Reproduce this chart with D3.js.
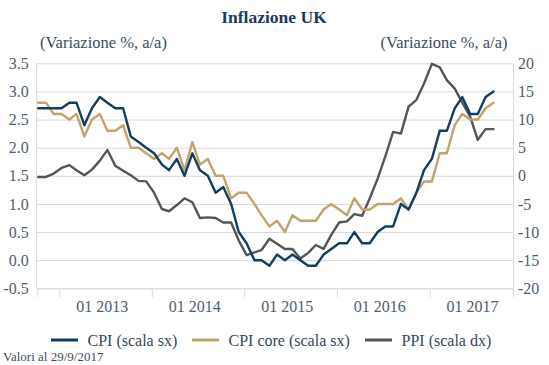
<!DOCTYPE html>
<html><head><meta charset="utf-8">
<script src="https://cdn.jsdelivr.net/npm/d3@7"></script>
<style>body{margin:0;background:#fff} svg{display:block}</style>
</head><body>
<svg id="c" width="549" height="365"></svg>
<script>
// ---- data (monthly, Oct 2012 - Sep 2017) ----
const startDate = new Date(2012, 9, 10);
const cpi = [2.7,2.7,2.7,
  2.7,2.8,2.8,2.4,2.7,2.9,2.8,2.7,2.7,2.2,2.1,2.0,
  1.9,1.7,1.6,1.8,1.5,1.9,1.6,1.5,1.2,1.3,1.0,0.5,
  0.3,0.0,0.0,-0.1,0.1,0.0,0.1,0.0,-0.1,-0.1,0.1,0.2,
  0.3,0.3,0.5,0.3,0.3,0.5,0.6,0.6,1.0,0.9,1.2,1.6,
  1.8,2.3,2.3,2.7,2.9,2.6,2.6,2.9,3.0];
const core = [2.8,2.8,2.6,
  2.6,2.5,2.6,2.2,2.5,2.6,2.3,2.3,2.4,2.0,2.0,1.9,
  1.8,1.9,1.8,2.0,1.6,2.1,1.7,1.8,1.5,1.5,1.1,1.2,
  1.2,1.0,0.8,0.6,0.7,0.5,0.8,0.7,0.7,0.7,0.9,1.0,
  0.9,0.8,1.1,0.9,0.9,1.0,1.0,1.0,1.1,0.9,1.2,1.4,
  1.4,1.9,1.9,2.4,2.6,2.5,2.5,2.7,2.8];
const ppi = [-0.2,-0.2,0.4,
  1.4,1.9,1.0,0.1,1.1,2.7,4.6,1.8,0.9,0.1,-0.9,-1.0,
  -3.0,-5.9,-6.3,-5.2,-4.0,-4.7,-7.5,-7.4,-7.5,-8.3,-8.3,-11.5,
  -14.1,-13.6,-13.2,-11.2,-12.1,-13.0,-13.0,-14.7,-13.7,-12.3,-13.0,-10.5,
  -8.3,-8.1,-6.8,-7.1,-4.0,-0.5,3.4,7.8,7.5,12.3,13.5,16.4,
  19.9,19.3,17.0,15.5,13.0,10.5,6.4,8.3,8.3];
const leftTicks = [-0.5,0,0.5,1,1.5,2,2.5,3,3.5];
const rightTicks = [-20,-15,-10,-5,0,5,10,15,20];
const tickYears = [2013,2014,2015,2016,2017];
const seriesNames = ["CPI (scala sx)","CPI core (scala sx)","PPI (scala dx)"];
const title = "Inflazione UK";
const subtitle = "(Variazione %, a/a)";
const note = "Valori al 29/9/2017";

// ---- layout ----
const FONT = "'Liberation Serif','Times New Roman',serif";
const colors = ["#123f5f","#c1a46d","#555555"];
const L = 36.7, R = 513, T = 63.3, B = 288.3;
const svg = d3.select("#c").style("font-family", FONT);

const months = cpi.map((_, i) => d3.timeMonth.offset(startDate, i));
const x = d3.scaleTime().domain([new Date(2012,9,4), new Date(2017,10,26)]).range([L, R]);
const yL = d3.scaleLinear().domain([-0.5,3.5]).range([B, T]);
const yR = d3.scaleLinear().domain([-20,20]).range([B, T]);

// gridlines + left axis labels
const gl = svg.append("g").attr("transform",`translate(${L},0)`)
  .call(d3.axisLeft(yL).tickValues(leftTicks).tickSize(-(R-L)).tickPadding(8)
        .tickFormat(d => d.toFixed(1)));
gl.select(".domain").remove();
gl.selectAll(".tick line").attr("stroke","#d9d9d9").attr("stroke-width",1);
gl.selectAll(".tick text").attr("fill","#4d5e70").style("font-size","16px").style("font-family",FONT);

// right axis
const gr = svg.append("g").attr("transform",`translate(${R},0)`)
  .call(d3.axisRight(yR).tickValues(rightTicks).tickSize(0).tickPadding(5)
        .tickFormat(d => String(d)));
gr.select(".domain").attr("stroke","#d9d9d9");
gr.selectAll(".tick text").attr("fill","#4d5e70").style("font-size","16px").style("font-family",FONT);

// left axis line
svg.append("line").attr("x1",L).attr("x2",L).attr("y1",T).attr("y2",B).attr("stroke","#d9d9d9");

// bottom axis
const gb = svg.append("g").attr("transform",`translate(0,${B})`)
  .call(d3.axisBottom(x).tickValues(tickYears.map(y => new Date(y,0,1))).tickSize(9)
        .tickFormat(d3.timeFormat("%m %Y")));
gb.select(".domain").attr("stroke","#d9d9d9");
gb.selectAll(".tick line").attr("stroke","#d9d9d9");
gb.selectAll(".tick text").attr("fill","#4d5e70").style("font-size","16px").style("font-family",FONT)
  .attr("x",42.5).attr("y",24).attr("dy",0);

// series
const series = [
  {vals: cpi, y: yL},
  {vals: core, y: yL},
  {vals: ppi, y: yR}
];
// draw PPI first (behind), then core, then CPI
[2,1,0].forEach(k => {
  const s = series[k];
  const line = d3.line().x((d,i) => x(months[i])).y(d => s.y(d));
  svg.append("path").datum(s.vals).attr("d", line)
    .attr("fill","none").attr("stroke",colors[k]).attr("stroke-width",2.4)
    .attr("stroke-linejoin","round").attr("stroke-linecap","round");
});

// title & subtitles
svg.append("text").attr("x",274).attr("y",23).attr("text-anchor","middle")
  .attr("fill","#1b3a5c").style("font-size","17.5px").style("font-weight","bold").text(title);
svg.append("text").attr("x",40).attr("y",47.5).attr("fill","#3d4d5d").style("font-size","16.5px").text(subtitle);
svg.append("text").attr("x",507.5).attr("y",47.5).attr("text-anchor","end").attr("fill","#3d4d5d").style("font-size","16.5px").text(subtitle);

// legend
const legX = [51, 192, 365];
const lg = svg.append("g");
seriesNames.forEach((n, k) => {
  lg.append("line").attr("x1",legX[k]).attr("x2",legX[k]+27).attr("y1",340).attr("y2",340)
    .attr("stroke",colors[k]).attr("stroke-width",3);
  lg.append("text").attr("x",legX[k]+36.5).attr("y",345.5).attr("fill","#34485c")
    .style("font-size","16px").text(n);
});

// note
svg.append("text").attr("x",3).attr("y",361).attr("fill","#3d4d5d").style("font-size","13px").text(note);
</script>
</body></html>
